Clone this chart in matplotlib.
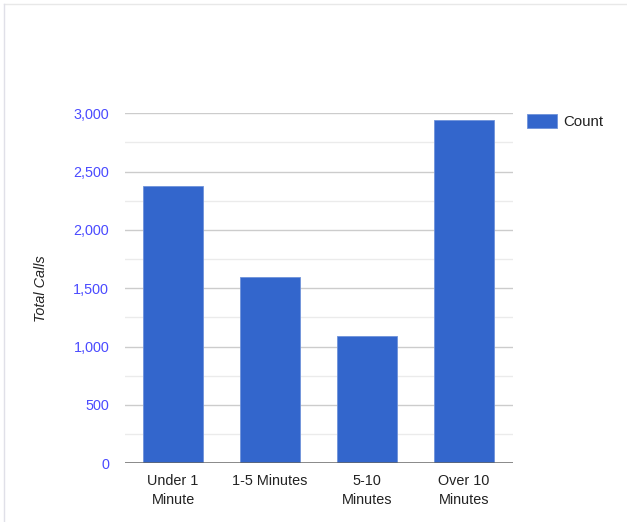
import numpy as np
import matplotlib
matplotlib.use('Agg')
import matplotlib.pyplot as plt
from matplotlib.lines import Line2D

# data
categories = ['Under 1\nMinute', '1-5 Minutes', '5-10\nMinutes', 'Over 10\nMinutes']
counts = [2377, 1595, 1089, 2945]
y_ticks = [0, 500, 1000, 1500, 2000, 2500, 3000]
y_minor = [250, 750, 1250, 1750, 2250, 2750]

plt.rcParams['font.family'] = ['Liberation Sans', 'DejaVu Sans']
fs = 10.4

fig = plt.figure(figsize=(6.27, 5.22), dpi=100)
ax = fig.add_axes([0.1986, 0.1125, 0.6188, 0.6705])

x = np.arange(len(categories))
ax.bar(x, counts, width=0.613, color='#3366cc', edgecolor='#6f92da',
       linewidth=0.6, label='Count', zorder=3)

ax.set_xlim(-0.5, len(categories) - 0.5)
ax.set_ylim(0, 3000)

# gridlines
for v in y_ticks[1:]:
    ax.axhline(v, color='#cccccc', lw=1.0, zorder=1)
for v in y_minor:
    ax.axhline(v, color='#ebebeb', lw=1.0, zorder=1)
ax.axhline(0, color='#666666', lw=1.8, zorder=4)

ax.set_yticks(y_ticks)
ax.set_yticklabels(['{:,}'.format(v) for v in y_ticks])
ax.set_xticks(x)
ax.set_xticklabels(categories, linespacing=1.4)

ax.tick_params(axis='y', length=0, pad=11, labelsize=fs, labelcolor='#4b4bff')
ax.tick_params(axis='x', length=0, pad=8, labelsize=fs, labelcolor='#222222')

for s in ax.spines.values():
    s.set_visible(False)

ax.set_ylabel('Total Calls', fontsize=fs, style='italic', color='#222222')
ax.yaxis.set_label_coords(-0.197, 0.5)

ax.legend(loc='upper left', bbox_to_anchor=(0.8405, 0.782),
          bbox_transform=fig.transFigure, frameon=False, fontsize=10.8,
          handlelength=2.0, handleheight=1.05, handletextpad=0.45,
          borderpad=0, borderaxespad=0, labelcolor='#222222')

# faint frame on top and left
fig.add_artist(Line2D([4 / 627, 1], [1 - 3.5 / 522, 1 - 3.5 / 522],
                      transform=fig.transFigure, color='#e8e8e8', lw=1))
fig.add_artist(Line2D([4 / 627, 4 / 627], [0, 1 - 3.5 / 522],
                      transform=fig.transFigure, color='#e0e0e8', lw=1))

plt.savefig('out.png', dpi=100)
